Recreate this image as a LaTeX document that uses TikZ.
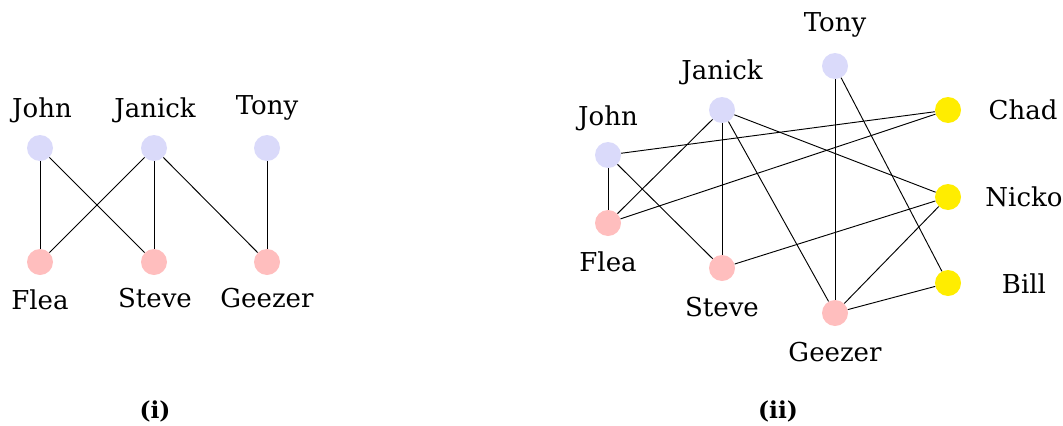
\documentclass[tikz,border=0pt]{standalone}
\usepackage{fontspec}
\setmainfont{DejaVu Serif}
\definecolor{cblue}{RGB}{218,218,250}
\definecolor{cpink}{RGB}{255,190,190}
\definecolor{cyel}{RGB}{255,237,0}
\tikzset{
  vtx/.style={circle,minimum size=19.5pt,inner sep=0pt},
  bvtx/.style={vtx,fill=cblue},
  pvtx/.style={vtx,fill=cpink},
  yvtx/.style={vtx,fill=cyel},
  lbl/.style={font=\fontsize{19.5}{23}\selectfont,inner sep=0pt},
  captxt/.style={font=\fontsize{17.5}{21}\selectfont\bfseries,inner sep=0pt},
  lnk/.style={line width=0.7pt}
}
\begin{document}
\begin{tikzpicture}[x=0.75pt,y=-0.75pt]
\useasboundingbox (0,0) rectangle (1063,425);
% (i)
\node[bvtx] (aJohn) at (40,148) {};
\node[bvtx] (aJanick) at (154,148) {};
\node[bvtx] (aTony) at (267,148) {};
\node[pvtx] (aFlea) at (40,262) {};
\node[pvtx] (aSteve) at (154,262) {};
\node[pvtx] (aGeezer) at (267,262) {};
\node[lbl] (laJohn) at (42,110) {John};
\node[lbl] (laJanick) at (155,110) {Janick};
\node[lbl] (laTony) at (267,108) {Tony};
\node[lbl] (laFlea) at (40,300) {Flea};
\node[lbl] (laSteve) at (155,298) {Steve};
\node[lbl] (laGeezer) at (267,298) {Geezer};
\foreach \a/\b in {aJohn/aFlea,aJohn/aSteve,aJanick/aFlea,aJanick/aSteve,aJanick/aGeezer,aTony/aGeezer}
  \draw[lnk] (\a) -- (\b);
\node[captxt] (capi) at (155,411) {(i)};
% (ii)
\node[bvtx] (bTony) at (835,66) {};
\node[bvtx] (bJanick) at (722,110) {};
\node[bvtx] (bJohn) at (608,155) {};
\node[pvtx] (bFlea) at (608,223) {};
\node[pvtx] (bSteve) at (722,268) {};
\node[pvtx] (bGeezer) at (835,313) {};
\node[yvtx] (bChad) at (948,110) {};
\node[yvtx] (bNicko) at (948,197) {};
\node[yvtx] (bBill) at (948,283) {};
\node[lbl] (lbTony) at (835,25) {Tony};
\node[lbl] (lbJanick) at (722,72) {Janick};
\node[lbl] (lbJohn) at (608,118) {John};
\node[lbl] (lbFlea) at (608,262) {Flea};
\node[lbl] (lbSteve) at (722,307) {Steve};
\node[lbl] (lbGeezer) at (835,352) {Geezer};
\node[lbl] (lbChad) at (1023,110) {Chad};
\node[lbl] (lbNicko) at (1024,197) {Nicko};
\node[lbl] (lbBill) at (1024,284) {Bill};
\foreach \a/\b in {bJohn/bChad,bJohn/bFlea,bJohn/bSteve,bJanick/bFlea,bJanick/bSteve,bJanick/bGeezer,bJanick/bNicko,bTony/bGeezer,bTony/bBill,bFlea/bChad,bSteve/bNicko,bGeezer/bNicko,bGeezer/bBill}
  \draw[lnk] (\a) -- (\b);
\node[captxt] (capii) at (778,411) {(ii)};
\end{tikzpicture}
\end{document}
